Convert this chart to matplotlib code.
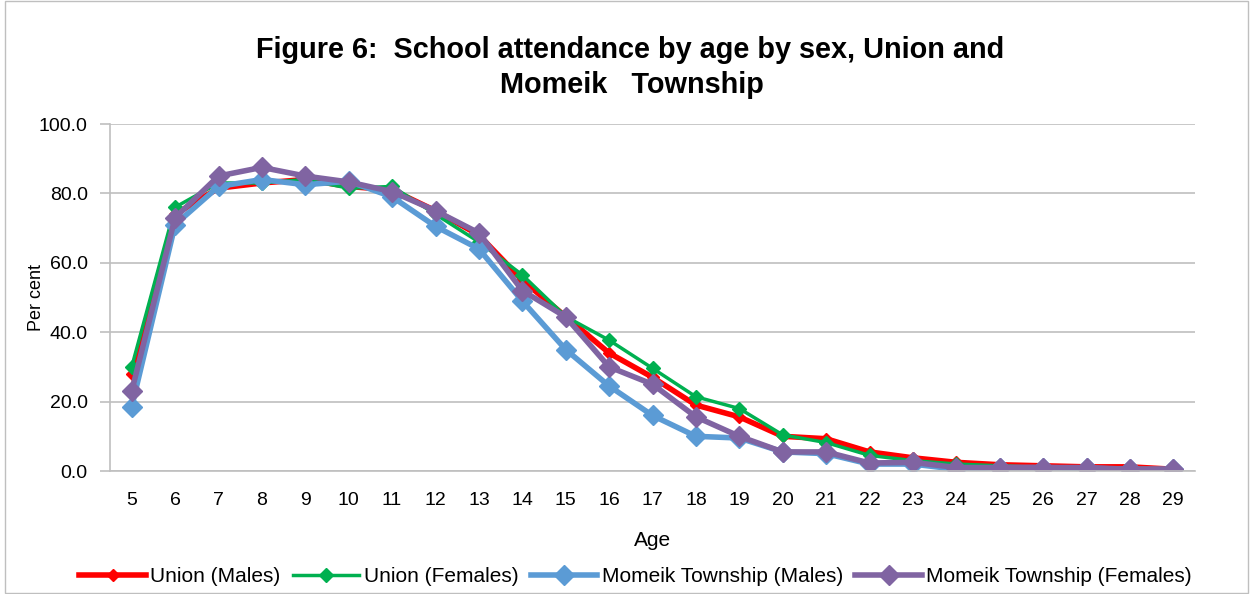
import numpy as np
import matplotlib.pyplot as plt

plt.rcParams['font.family'] = ['Liberation Sans', 'DejaVu Sans']

# 연령 범주
ages = list(range(5, 30))

union_males = [28, 74, 81.5, 83, 84, 82, 81, 75, 68, 55, 44.5, 34, 27, 19, 15.6,
               10, 9.3, 5.5, 3.8, 2.5, 1.8, 1.5, 1.2, 1.2, 0.5]
union_females = [30, 76, 83, 83, 84, 81.5, 82, 74, 66, 56.5, 44.5, 37.7, 29.6, 21.4, 18,
                 10.4, 8.2, 4.5, 3, 2, 1.5, 1, 1, 0.8, 0.5]
momeik_males = [18.5, 71, 82, 84, 82.5, 83.5, 79, 70.5, 64, 49, 35, 24.5, 16, 10, 9.5,
                5.5, 5, 2, 2, 0.5, 1, 1, 0.8, 0.5, 0.5]
momeik_females = [23, 73, 85, 87.5, 85, 83.3, 80.5, 75, 68.6, 52, 44.4, 30, 25, 15.6, 10,
                  5.5, 5.5, 2.3, 2.5, 1, 1, 1, 1, 0.5, 0.5]

series = [
    ('Union (Males)', union_males, '#FF0000', 4, 6),
    ('Union (Females)', union_females, '#00B050', 2.5, 7),
    ('Momeik Township (Males)', momeik_males, '#5B9BD5', 4, 10),
    ('Momeik Township (Females)', momeik_females, '#8064A2', 4, 10),
]

fig = plt.figure(figsize=(12.51, 5.94), dpi=100)
ax = fig.add_axes([110 / 1251, 1 - 471 / 594, (1195 - 110) / 1251, (471 - 124) / 594])

for name, vals, color, lw, ms in series:
    ax.plot(ages, vals, color=color, lw=lw, marker='D', ms=ms, mec=color, mfc=color,
            label=name)

ax.set_xlim(4.5, 29.5)
ax.set_ylim(0, 100)
ax.set_yticks(np.arange(0, 101, 20))
ax.set_yticklabels([f'{v:.1f}' for v in np.arange(0, 101, 20)])
ax.set_xticks(ages)
ax.tick_params(axis='both', labelsize=14, colors='#BFBFBF', labelcolor='#000000')
ax.tick_params(axis='x', length=0, pad=15)
ax.tick_params(axis='y', length=7, width=1.2, pad=9)
ax.yaxis.grid(True, color='#BFBFBF', lw=1.2)
ax.set_axisbelow(True)
for s in ['top', 'right']:
    ax.spines[s].set_visible(False)
ax.spines['left'].set_color('#BFBFBF')
ax.spines['bottom'].set_color('#BFBFBF')
ax.spines['left'].set_linewidth(1.2)
ax.spines['bottom'].set_linewidth(1.2)

ax.set_xlabel('Age', fontsize=15, labelpad=16)
ax.set_ylabel('Per cent', fontsize=13)
ax.yaxis.set_label_coords(-0.06, 0.5)

fig.text(0.504, 1 - 50 / 594, 'Figure 6:  School attendance by age by sex, Union and',
         ha='center', va='center', fontsize=20.8, fontweight='bold')
fig.text(0.505, 1 - 85 / 594, 'Momeik   Township',
         ha='center', va='center', fontsize=20.8, fontweight='bold')

fig.legend(loc='center', bbox_to_anchor=(0.508, 1 - 577 / 594), ncol=4, frameon=False,
           fontsize=15, handlelength=3.2, columnspacing=0.6, handletextpad=0.2)

fig.patches.append(plt.Rectangle((0.004, 0.002), 0.994, 0.996, transform=fig.transFigure,
                                 fill=False, edgecolor='#BFBFBF', lw=1))

fig.savefig('out.png', dpi=100)
